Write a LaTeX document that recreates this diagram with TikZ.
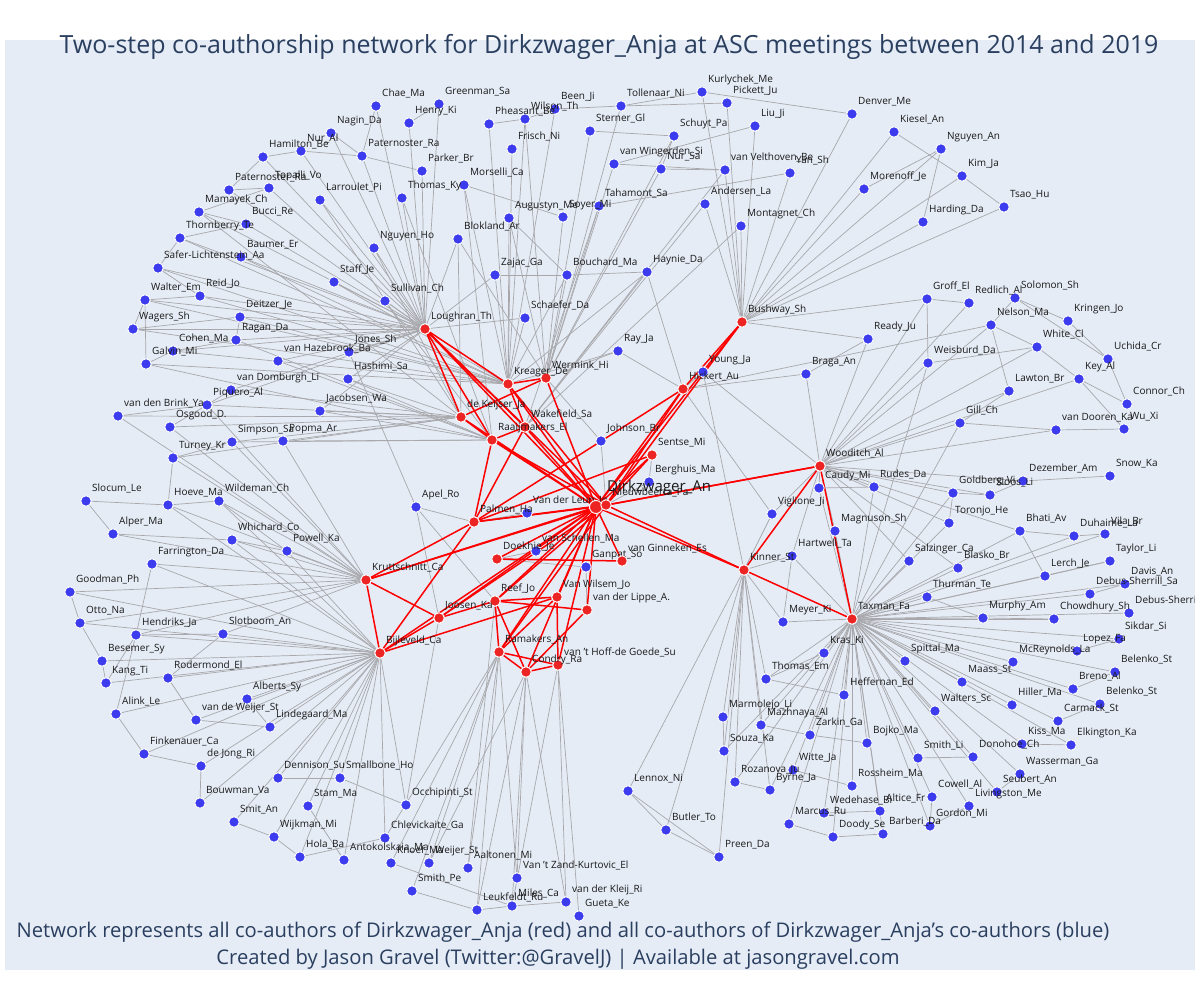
\documentclass[tikz,border=0pt]{standalone}
\usepackage{fontspec}
\setmainfont{Open Sans}
\definecolor{bgc}{RGB}{229,236,246}
\definecolor{titc}{RGB}{42,63,95}
\definecolor{nblue}{RGB}{60,60,238}
\definecolor{nred}{RGB}{236,36,36}
\definecolor{egray}{RGB}{168,168,172}
\pgfdeclarelayer{back}\pgfdeclarelayer{gl}\pgfdeclarelayer{rl}
\pgfsetlayers{back,gl,rl,main}
\begin{document}
\begin{tikzpicture}[x=1pt,y=-1pt,
  bnode/.style={circle,fill=nblue,draw=white,line width=0.9pt,minimum size=10.5pt,inner sep=0pt},
  rnode/.style={bnode,fill=nred},
  bignode/.style={bnode,fill=nred,minimum size=13pt},
  lbl/.style={anchor=base west,inner sep=0pt,font=\fontsize{10}{12}\selectfont,text=black!90},
  gedge/.style={draw=egray,line width=0.7pt},
  redge/.style={draw=red,line width=1.5pt}]
\useasboundingbox (0,0) rectangle (1200,1000);
\begin{pgfonlayer}{back}
\fill[bgc] (5,40) rectangle (1195,970);
\end{pgfonlayer}
\node[anchor=base,inner sep=0pt,text=titc,font=\fontsize{25}{29}\selectfont] (title) at (609,54) {Two-step co-authorship network for Dirkzwager\_Anja at ASC meetings between 2014 and 2019};
\node[anchor=base,inner sep=0pt,text=titc,font=\fontsize{20.2}{24}\selectfont] (foota) at (563,937) {Network represents all co-authors of Dirkzwager\_Anja (red) and all co-authors of Dirkzwager\_Anja's co-authors (blue)};
\node[anchor=base,inner sep=0pt,text=titc,font=\fontsize{20.2}{24}\selectfont] (footb) at (558,964) {Created by Jason Gravel (Twitter:@GravelJ) | Available at jasongravel.com};

\def\bluelist{chae/376/106/Chae\_Ma, greenman/439/104/Greenman\_Sa, henry/409/123/Henry\_Ki,
nagin/331/133/Nagin\_Da, nural/301/151/Nur\_Al, hamilton/263/157/Hamilton\_Be,
patra/362/156/Paternoster\_Ra, patrb/229/190/Paternoster\_Ra, topalli/269/188/Topalli\_Vo,
mamayek/199/212/Mamayek\_Ch, bucci/246/224/Bucci\_Re, thornb/180/238/Thornberry\_Te,
baumer/241/257/Baumer\_Er, safer/158/268/Safer-Lichtenstein\_Aa, reid/200/296/Reid\_Jo,
walter/145/300/Walter\_Em, deitzer/240/317/Deitzer\_Je, wagers/133/329/Wagers\_Sh,
ragan/236/340/Ragan\_Da, cohen/173/351/Cohen\_Ma, galvin/146/364/Galvin\_Mi,
vanhaz/278/361/van Hazebrook\_Ba, jones/349/352/Jones\_Sh, hashimi/348/379/Hashimi\_Sa,
jacobsen/320/411/Jacobsen\_Wa, vandomb/231/390/van Domburgh\_Li, piquero/207/405/Piquero\_Al,
vdbrink/118/416/van den Brink\_Ya, osgood/170/427/Osgood\_D., simpson/232/442/Simpson\_Sa,
popma/283/441/Popma\_Ar, turney/173/458/Turney\_Kr, slocum/86/501/Slocum\_Le,
hoeve/168/505/Hoeve\_Ma, wildeman/219/501/Wildeman\_Ch, alper/113/534/Alper\_Ma,
whichard/232/540/Whichard\_Co, powell/287/551/Powell\_Ka, farr/152/564/Farrington\_Da,
goodman/70/592/Goodman\_Ph, otto/80/623/Otto\_Na, hendriks/136/635/Hendriks\_Ja,
slotboom/223/634/Slotboom\_An, besemer/102/661/Besemer\_Sy, kang/106/683/Kang\_Ti,
roder/168/678/Rodermond\_El, alberts/247/699/Alberts\_Sy, alink/116/714/Alink\_Le,
vdweijer/196/720/van de Weijer\_St, linde/270/727/Lindegaard\_Ma, finken/144/754/Finkenauer\_Ca,
dejong/201/766/de Jong\_Ri, dennison/278/778/Dennison\_Su, bouwman/200/803/Bouwman\_Va,
smit/234/822/Smit\_An, wijkman/274/837/Wijkman\_Mi, hola/300/857/Hola\_Ba,
smallb/340/778/Smallbone\_Ho, stam/308/806/Stam\_Ma, occhi/406/805/Occhipinti\_St,
chlev/385/838/Chlevickaite\_Ga, antok/344/860/Antokolskaia\_Ma, knoef/391/863/Knoef\_Ma,
weijer/429/863/Weijer\_St, aalt/468/868/Aaltonen\_Mi, zand/517/878/Van 't Zand-Kurtovic\_El,
smithpe/412/891/Smith\_Pe, leuk/477/910/Leukfeldt\_Ru, miles/512/906/Miles\_Ca,
kleij/566/902/van der Kleij\_Ri, gueta/579/916/Gueta\_Ke,
larroulet/320/200/Larroulet\_Pi, thomasky/402/198/Thomas\_Ky, parker/422/171/Parker\_Br,
morselli/464/185/Morselli\_Ca, pheasant/489/124/Pheasant\_Be, wilson/525/119/Wilson\_Th,
been/555/109/Been\_Ji, frisch/512/149/Frisch\_Ni, sterner/590/131/Sterner\_Gl,
augustyn/509/218/Augustyn\_Me, soyer/563/217/Soyer\_Mi, blokland/458/239/Blokland\_Ar,
nguyenho/374/248/Nguyen\_Ho, zajac/495/275/Zajac\_Ga, bouchard/567/275/Bouchard\_Ma,
staff/334/282/Staff\_Je, sullivan/385/301/Sullivan\_Ch, schaefer/525/318/Schaefer\_Da,
kurly/702/92/Kurlychek\_Me, tollenaar/621/106/Tollenaar\_Ni, pickett/727/103/Pickett\_Ju,
denver/852/114/Denver\_Me, liu/755/126/Liu\_Ji, schuyt/674/136/Schuyt\_Pa,
kiesel/894/132/Kiesel\_An, vanwing/614/164/van Wingerden\_Si, nursa/661/169/Nur\_Sa,
velthoven/725/170/van Velthoven\_Be, yan/790/173/Yan\_Sh, morenoff/864/189/Morenoff\_Je,
tahamont/599/206/Tahamont\_Sa, andersen/705/204/Andersen\_La, montagnet/741/226/Montagnet\_Ch,
haynie/647/272/Haynie\_Da, nguyenan/941/149/Nguyen\_An, kimja/962/176/Kim\_Ja,
tsao/1004/207/Tsao\_Hu, harding/923/222/Harding\_Da,
groff/927/299/Groff\_El, redlich/969/303/Redlich\_Al, solomon/1015/298/Solomon\_Sh,
nelson/991/325/Nelson\_Ma, kringen/1068/321/Kringen\_Jo, ready/868/339/Ready\_Ju,
white/1037/347/White\_Cl, uchida/1108/359/Uchida\_Cr, weisburd/928/363/Weisburd\_Da,
braga/806/374/Braga\_An, key/1079/379/Key\_Al, lawton/1009/391/Lawton\_Br,
connor/1127/404/Connor\_Ch, gill/960/423/Gill\_Ch, vandooren/1056/430/van Dooren\_Ka,
wuxi/1124/429/Wu\_Xi, snow/1110/476/Snow\_Ka, dezember/1023/481/Dezember\_Am,
goldberg/953/493/Goldberg\_Vi, sloos/990/495/Sloos\_Li, caudy/819/488/Caudy\_Mi,
rudes/874/487/Rudes\_Da, viglione/772/514/Viglione\_Ji, magnuson/835/531/Magnuson\_Sh,
toronjo/949/523/Toronjo\_He, bhati/1020/531/Bhati\_Av, duhaime/1074/536/Duhaime\_La,
vila/1105/534/Vila\_Br, hartwell/792/556/Hartwell\_Ta, salz/909/561/Salzinger\_Ca,
blasko/958/568/Blasko\_Br, taylor/1110/561/Taylor\_Li, lerch/1045/576/Lerch\_Je,
davis/1125/584/Davis\_An, thurman/927/597/Thurman\_Te, debus/1090/594/Debus-Sherrill\_Sa,
murphy/983/618/Murphy\_Am, chowd/1054/619/Chowdhury\_Sh, debustwo/1129/613/Debus-Sherrill\_Sa,
meyer/783/622/Meyer\_Ki, sikdar/1119/639/Sikdar\_Si, lopez/1077/651/Lopez\_Fa,
mcrey/1013/662/McReynolds\_La, belenko/1115/672/Belenko\_St, spittal/905/661/Spittal\_Ma,
maass/962/682/Maass\_St, breno/1073/689/Breno\_Al, hiller/1012/705/Hiller\_Ma,
belenkotwo/1100/704/Belenko\_St, walters/935/711/Walters\_Sc, carmack/1058/721/Carmack\_St,
elking/1071/745/Elkington\_Ka, kiss/1022/744/Kiss\_Ma, donohoe/973/757/Donohoe\_Ch,
smithli/918/758/Smith\_Li, wasser/1020/774/Wasserman\_Ga, seubert/997/792/Seubert\_An,
livingston/969/806/Livingston\_Me, cowell/932/797/Cowell\_Al, gordon/930/826/Gordon\_Mi,
barberi/883/834/Barberi\_Da, doody/833/837/Doody\_Se, altice/880/811/Altice\_Fr,
wedehase/824/813/Wedehase\_Bi, marcus/789/824/Marcus\_Ru, rossheim/852/786/Rossheim\_Ma,
byrne/770/790/Byrne\_Ja, rozanova/735/782/Rozanova\_Ju, witte/793/770/Witte\_Ja,
bojko/867/743/Bojko\_Ma, zarkin/810/735/Zarkin\_Ga, mazhnaya/761/725/Mazhnaya\_Al,
souza/724/751/Souza\_Ka, marmolejo/723/717/Marmolejo\_Li, heffernan/844/695/Heffernan\_Ed,
thomasem/766/679/Thomas\_Em, kras/824/653/Kras\_Ki, lennox/628/791/Lennox\_Ni,
butler/666/830/Butler\_To, preen/719/857/Preen\_Da,
ray/618/351/Ray\_Ja, young/703/372/Young\_Ja, johnson/601/441/Johnson\_Br,
berghuis/649/482/Berghuis\_Ma, apel/416/507/Apel\_Ro, ganpat/586/567/Ganpat\_So,
schellen/536/551/van Schellen\_Ma, vdleun/527/513/Van der Leun\_Jo}

\def\redlist{lough/425/329/Loughran\_Th, bush/742/322/Bushway\_Sh, kreag/508/384/Kreager\_De,
werm/546/378/Wermink\_Hi, keij/461/417/de Keijser\_Ja, wake/525/427/Wakefield\_Sa,
raaij/492/440/Raaijmakers\_El, hick/683/389/Hickert\_Au, sentse/652/455/Sentse\_Mi,
wood/820/466/Wooditch\_Al, nieuw/606/505/Nieuwbeerta\_Pa, palmen/474/522/Palmen\_Ha,
doek/497/559/Doekhie\_Je, ginn/622/561/van Ginneken\_Es, kinner/744/570/Kinner\_St,
krutt/366/580/Kruttschnitt\_Ca, reef/495/601/Reef\_Jo, wilsem/557/597/Van Wilsem\_Jo,
lippe/587/610/van der Lippe\_A., joosen/439/618/Joosen\_Ka, taxman/852/619/Taxman\_Fa,
bijl/380/653/Bijleveld\_Ca, ramak/499/652/Ramakers\_An, hoff/558/665/van 't Hoff-de Goede\_Su,
condry/526/672/Condry\_Ra}

% blue nodes and labels
\foreach \i/\x/\y/\t in \bluelist { \node[bnode] (\i) at (\x,\y) {}; }
\foreach \i/\x/\y/\t in \bluelist { \node[lbl] (\i-l) at (\x+6,\y-9.5) {\t}; }
% red nodes and labels
\node[bignode] (dirk) at (596,507) {};
\foreach \i/\x/\y/\t in \redlist { \node[rnode] (\i) at (\x,\y) {}; }
\foreach \i/\x/\y/\t in \redlist { \node[lbl] (\i-l) at (\x+6,\y-9.5) {\t}; }
\node[anchor=base west,inner sep=0pt,font=\fontsize{15}{18}\selectfont,text=black!90] (dirk-l) at (607,491) {Dirkzwager\_An};

% gray edges
\begin{pgfonlayer}{gl}
\foreach \b in {chae,henry,nagin,nural,hamilton,patra,patrb,topalli,mamayek,bucci,thornb,baumer,safer,reid,walter,deitzer,wagers,ragan,cohen,vanhaz,jones,larroulet,thomasky,nguyenho,staff,sullivan,blokland,parker,greenman,hashimi,vandomb,piquero,jacobsen,zajac,schaefer} \draw[gedge] (lough) -- (\b);
\foreach \b in {haynie,schaefer,zajac,bouchard,augustyn,frisch,pheasant,been,wilson,morselli,staff,ray,reid,walter,galvin,cohen,safer,deitzer,wagers,baumer,thornb} \draw[gedge] (kreag) -- (\b);
\foreach \b in {nursa,vanwing,schuyt,sterner,tollenaar,soyer,tahamont,blokland,johnson,ray,bouchard,augustyn,wilson} \draw[gedge] (werm) -- (\b);
\foreach \b in {vandomb,piquero,hashimi,jacobsen,vdbrink,osgood,simpson,popma,turney,blokland,nguyenho,larroulet,mamayek} \draw[gedge] (keij) -- (\b);
\foreach \b in {jacobsen,hashimi,popma,simpson,morselli,thomasky,vanhaz,sullivan,ragan,galvin} \draw[gedge] (raaij) -- (\b);
\foreach \b in {andersen,haynie,montagnet,tahamont,velthoven} \draw[gedge] (wake) -- (\b);
\foreach \b in {kurly,pickett,liu,denver,kiesel,nguyenan,kimja,morenoff,harding,yan,velthoven,montagnet,ready,young,andersen,tsao,groff} \draw[gedge] (bush) -- (\b);
\foreach \b in {young,ray,braga,haynie,viglione,nelson} \draw[gedge] (hick) -- (\b);
\foreach \b in {lennox,butler,preen,souza,marmolejo,rozanova,byrne,meyer,viglione,hartwell,thomasem,mazhnaya,young} \draw[gedge] (kinner) -- (\b);
\foreach \b in {weisburd,gill,lawton,ready,braga,caudy,rudes,groff,nelson,white,goldberg,sloos,toronjo,bhati,magnuson,hartwell,viglione,dezember,key,salz,blasko,vandooren,young,redlich} \draw[gedge] (wood) -- (\b);
\foreach \b in {kras,thomasem,heffernan,mazhnaya,zarkin,bojko,witte,rossheim,wedehase,altice,doody,barberi,cowell,gordon,livingston,seubert,smithli,walters,spittal,maass,hiller,kiss,donohoe,wasser,carmack,breno,belenko,belenkotwo,lopez,sikdar,mcrey,murphy,chowd,thurman,salz,blasko,lerch,taylor,davis,debus,debustwo,duhaime,vila,bhati,toronjo,rudes,magnuson,hartwell,meyer,caudy,elking,goldberg,marcus,byrne,rozanova,souza,weisburd,gill} \draw[gedge] (taxman) -- (\b);
\foreach \b in {slotboom,hendriks,besemer,roder,alberts,vdweijer,linde,finken,dejong,dennison,smallb,occhi,chlev,wijkman,stam,hola,antok,farr,goodman,otto,alink,kang,bouwman,smit,hoeve,whichard,wildeman,powell} \draw[gedge] (bijl) -- (\b);
\foreach \b in {wildeman,powell,whichard,turney,hoeve,alper,farr,goodman,simpson,popma,osgood,slotboom,hendriks,vdbrink,piquero,otto} \draw[gedge] (krutt) -- (\b);
\foreach \b in {aalt,leuk,smithpe,knoef,chlev,weijer,zand} \draw[gedge] (ramak) -- (\b);
\foreach \b in {miles,leuk,kleij,zand,weijer} \draw[gedge] (condry) -- (\b);
\foreach \b in {gueta,kleij,miles} \draw[gedge] (hoff) -- (\b);
\foreach \b in {aalt,apel} \draw[gedge] (reef) -- (\b);
\foreach \b in {apel,occhi} \draw[gedge] (joosen) -- (\b);
\foreach \b in {apel,vdleun} \draw[gedge] (palmen) -- (\b);
\foreach \b in {schellen,ganpat} \draw[gedge] (doek) -- (\b);
\foreach \b in {berghuis,johnson} \draw[gedge] (nieuw) -- (\b);
\draw[gedge] (sentse) -- (berghuis);
\draw[gedge] (lippe) -- (ganpat);
\draw[gedge] (apel) -- (jones);
\foreach \a/\b in {hamilton/nural,hamilton/patrb,nural/patra,nagin/patra,patra/parker,chae/patra,henry/greenman,
 patrb/topalli,topalli/mamayek,mamayek/bucci,thornb/bucci,thornb/safer,safer/reid,walter/reid,walter/wagers,
 wagers/deitzer,deitzer/ragan,ragan/cohen,cohen/galvin,galvin/walter,vdbrink/piquero,osgood/piquero,
 piquero/vandomb,simpson/turney,turney/hoeve,slocum/alper,slocum/hoeve,alper/whichard,hoeve/wildeman,
 wildeman/powell,whichard/powell,goodman/otto,otto/besemer,besemer/kang,kang/hendriks,hendriks/slotboom,
 slotboom/roder,roder/vdweijer,vdweijer/linde,alink/finken,finken/dejong,dejong/bouwman,alberts/linde,
 alink/hendriks,smit/wijkman,wijkman/hola,dennison/smallb,smallb/occhi,stam/antok,hola/chlev,knoef/miles,
 smithpe/leuk,leuk/miles,miles/kleij,farr/hendriks,pheasant/wilson,wilson/been,been/tollenaar,
 tollenaar/kurly,kurly/denver,pickett/tollenaar,sterner/schuyt,schuyt/nursa,vanwing/velthoven,
 nursa/velthoven,tahamont/yan,liu/vanwing,kiesel/kimja,nguyenan/harding,kimja/tsao,nguyenan/morenoff,
 morselli/soyer,augustyn/bouchard,zajac/bouchard,haynie/bouchard,groff/redlich,groff/weisburd,
 solomon/nelson,solomon/kringen,solomon/uchida,kringen/uchida,nelson/white,nelson/lawton,white/weisburd,
 white/key,key/connor,connor/uchida,wuxi/vandooren,wuxi/key,gill/vandooren,lawton/gill,dezember/snow,
 sloos/goldberg,goldberg/toronjo,bhati/duhaime,duhaime/vila,lerch/taylor,debus/davis,chowd/murphy,
 murphy/thurman,lopez/sikdar,belenko/breno,carmack/belenkotwo,kiss/elking,donohoe/smithli,seubert/wasser,
 livingston/gordon,cowell/gordon,barberi/doody,marcus/doody,wedehase/altice,rossheim/witte,byrne/rozanova,
 souza/marmolejo,mazhnaya/zarkin,zarkin/bojko,lennox/butler,butler/preen,lennox/preen,thomasem/heffernan,
 kras/thomasem,meyer/hartwell,caudy/rudes,braga/ready,sloos/dezember,bhati/lerch}
 \draw[gedge] (\a) -- (\b);
\end{pgfonlayer}

% red edges
\begin{pgfonlayer}{rl}
\foreach \b in {lough,bush,kreag,werm,keij,wake,raaij,hick,sentse,wood,palmen,doek,ginn,kinner,krutt,reef,wilsem,lippe,joosen,bijl,ramak,hoff,condry,nieuw} \draw[redge] (dirk) -- (\b);
\foreach \b in {lough,bush,hick,wood,kinner,raaij,krutt,joosen,sentse,kreag,palmen,reef,ramak} \draw[redge] (nieuw) -- (\b);
\foreach \a/\b in {lough/kreag,lough/keij,lough/raaij,lough/wake,kreag/werm,keij/werm,keij/raaij,raaij/wake,
 wake/kreag,bush/hick,hick/palmen,sentse/palmen,wood/kinner,wood/taxman,kinner/taxman,krutt/palmen,
 krutt/joosen,krutt/bijl,palmen/raaij,palmen/wake,palmen/bijl,joosen/bijl,doek/ginn,reef/wilsem,reef/lippe,
 reef/ramak,reef/condry,ramak/wilsem,ramak/condry,ramak/hoff,condry/hoff,condry/lippe,hoff/wilsem,
 joosen/reef,bijl/wilsem}
 \draw[redge] (\a) -- (\b);
\end{pgfonlayer}

\fill[white] (1195,0) rectangle (1200,1000);
\end{tikzpicture}
\end{document}
